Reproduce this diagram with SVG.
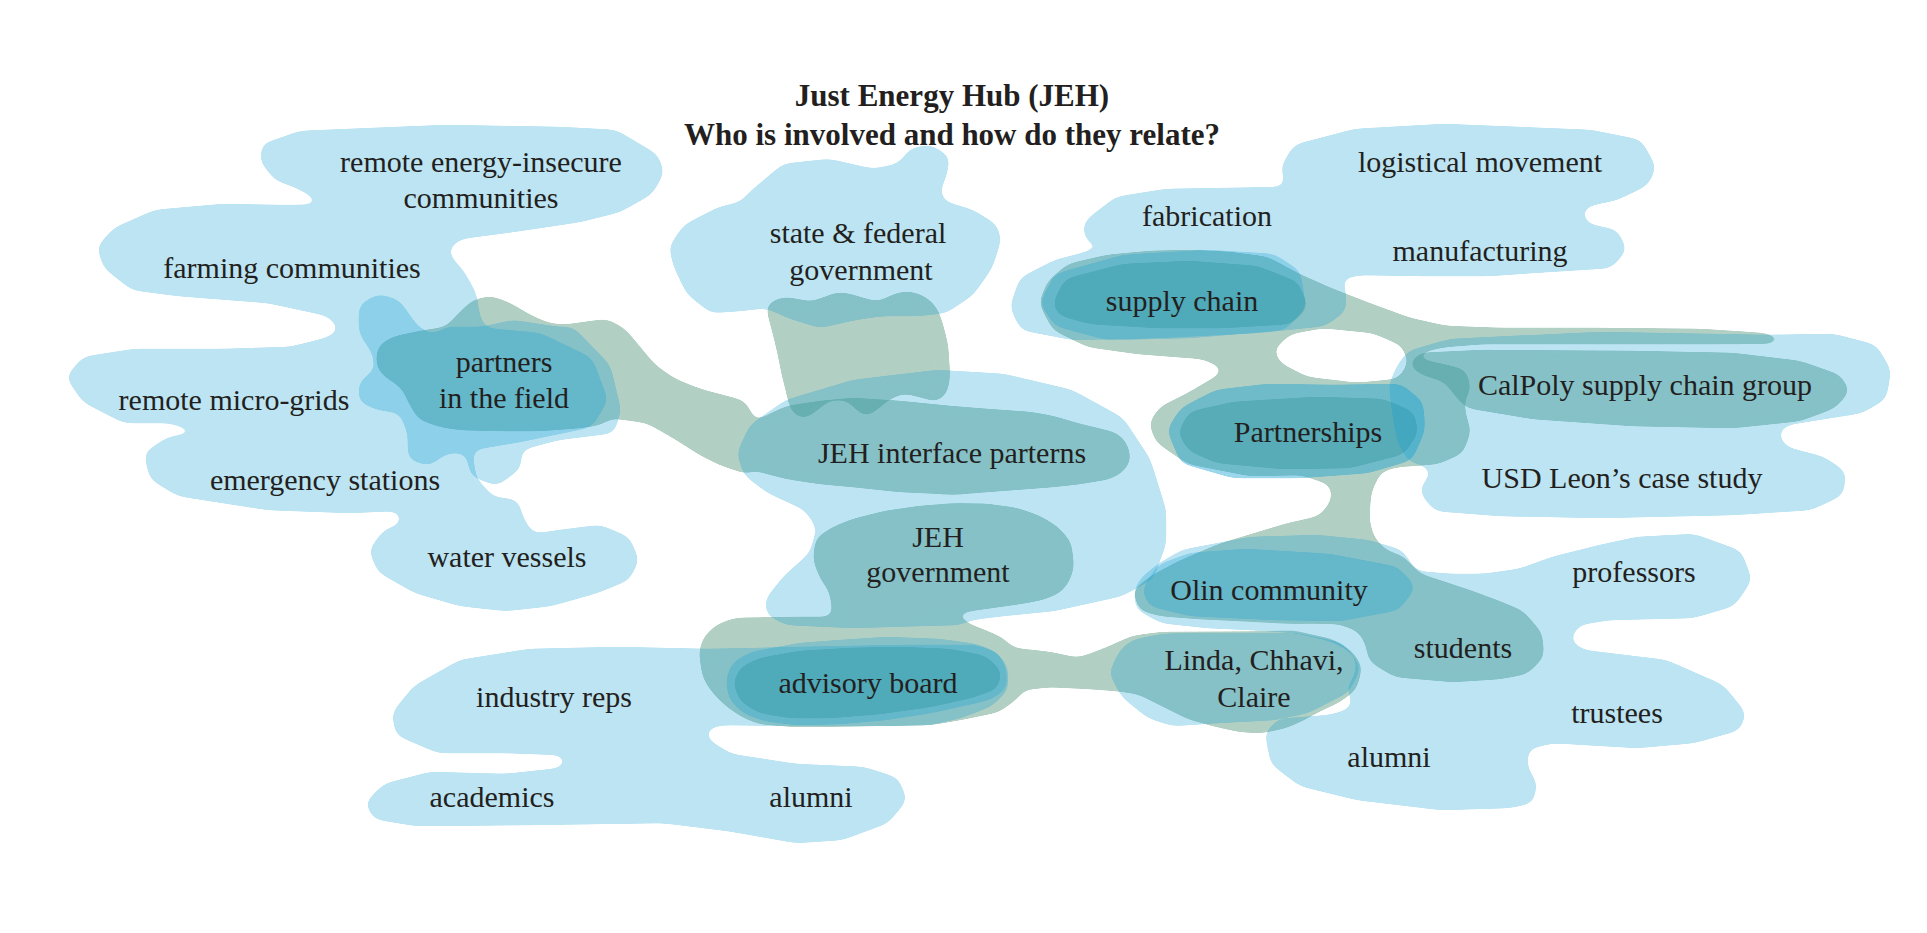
<svg xmlns="http://www.w3.org/2000/svg" width="1927" height="933" viewBox="0 0 1927 933">
<defs>
<filter id="goo" x="-10%" y="-10%" width="120%" height="120%" color-interpolation-filters="sRGB">
<feGaussianBlur stdDeviation="6"/>
<feColorMatrix type="matrix" values="1 0 0 0 0  0 1 0 0 0  0 0 1 0 0  0 0 0 24 -11"/>
</filter>
</defs>
<style>
.g path{fill:#56977c;fill-rule:evenodd}
.g{opacity:.45;filter:url(#goo)}
.b{fill:#14a0d4;opacity:.28;filter:url(#goo)}
.b2{opacity:.42}
text{font-family:"Liberation Serif","Times New Roman",serif;font-size:30px;fill:#231f20;text-anchor:middle}
.t{font-weight:bold;font-size:31px}
</style>
<rect width="1927" height="933" fill="#ffffff"/>
<g id="connectors">
<g class="g" id="links-main">
<path d="M376,362 L378,346 392,337 420,331 446,327 460,312 473,300 491,296 510,303 530,315 548,323 563,325 585,322 607,319 625,329 640,347 655,365 675,379 700,389 745,401 760,430 750,475 720,465 700,455 675,439 647,423 612,418 600,425 580,428 540,431 500,431 460,430 440,427 418,419 409,403 402,388 390,380 380,373 Z"/>
<path d="M736,453 L744,433 763,417 787,406 820,401 853,398 900,401 950,406 987,409 1030,412 1053,416 1080,424 1097,428 1117,433 1127,443 1131,460 1123,472 1110,479 1080,484 1053,487 1000,491 953,494 900,492 853,487 820,484 787,479 760,472 744,466 Z"/>
<path d="M813,560 L816,538 833,527 853,519 885,511 920,506 955,504 987,504 1017,508 1040,516 1058,527 1071,542 1074,567 1069,582 1060,593 1042,600 1020,604 970,611 920,617 870,621 843,620 833,615 831,600 829,590 821,580 Z"/>
<path d="M699,653 L703,638 716,625 735,618 796,617 880,617 958,617 969,624 987,631 1003,638 1013,648 1050,652 1078,658 1095,652 1110,646 1132,636 1162,632 1218,632 1296,632 1332,639 1353,652 1362,668 1356,690 1338,703 1320,711 1302,721 1286,728 1262,733 1240,732 1213,726 1188,719 1158,704 1138,694 1117,691 1090,689 1050,687 1023,690 1018,698 999,712 960,720 930,725 870,726 796,727 759,724 742,717 726,706 712,692 703,678 Z"/>
<path d="M1039,303 L1048,281 1068,264 1107,255 1150,251 1190,250 1230,252 1268,257 1299,274 1333,289 1369,303 1410,318 1446,326 1500,328 1600,328 1700,329 1765,333 1788,339 1772,344 1733,344 1633,344 1533,344 1483,344 1445,347 1425,351 1410,358 1443,364 1466,370 1471,390 1464,400 1466,417 1471,430 1463,453 1438,464 1397,467 1383,471 1350,474 1250,476 1188,464 1156,442 1149,423 1160,407 1188,393 1222,373 1225,369 1203,359 1138,354 1088,347 1053,330 Z M1273,350 L1290,334 1323,328 1373,333 1403,346 1408,365 1398,379 1357,383 1307,377 1280,363 Z"/>
<path d="M1299,474 L1331,485 1332,500 1320,516 1285,524 1219,544 1179,561 1151,576 1133,590 1139,610 1160,616 1200,619 1274,622 1339,624 1358,631 1365,642 1370,662 1395,677 1453,682 1500,679 1527,674 1544,657 1542,633 1523,611 1499,601 1472,591 1442,581 1420,574 1403,556 1387,551 1374,538 1369,520 1371,492 1385,463 1350,464 Z"/>
</g>
<g class="g" id="links-over">
<path d="M766,305 L775,300 784,297 797,299 811,302 825,297 838,292 850,294 860,297 870,300 878,302 890,296 900,292 912,292 922,295 932,302 938,310 943,325 948,345 950,377 947,393 937,402 920,397 903,393 888,400 880,407 867,417 860,413 847,400 830,400 817,410 807,418 797,417 790,408 787,395 782,375 777,350 772,330 768,315 Z"/>
<path d="M1053,303 L1065,279 1123,264 1190,261 1257,266 1298,282 1308,307 1291,324 1223,328 1157,328 1090,324 1058,315 Z"/>
<path d="M1178,433 L1189,412 1233,402 1317,397 1383,399 1414,412 1418,433 1404,454 1350,468 1283,469 1217,463 1189,451 Z"/>
<path d="M733,682 L741,667 760,658 800,651 850,648 900,647 950,649 986,656 1002,672 997,689 971,698 930,707 880,714 830,718 790,718 759,713 740,701 Z"/>
<path d="M1408,364 L1420,353 1483,350 1633,351 1733,353 1800,361 1840,375 1850,391 1835,408 1800,421 1733,428 1633,426 1533,419 1467,408 1457,398 1445,382 1420,374 Z"/>
</g>
</g>
<g id="node-communities">
<path class="b" d="M266,143 L300,131 446,125 560,127 616,130 658,155 664,173 652,194 620,212 580,222 513,232 460,239 447,250 455,262 463,270 476,293 480,317 485,328 540,333 592,358 608,400 592,427 520,442 472,450 476,478 493,497 518,500 523,518 533,534 560,530 600,525 629,537 639,560 629,580 597,593 551,606 506,611 460,606 415,593 378,572 369,550 384,530 401,524 402,514 393,511 350,513 268,510 178,496 150,479 144,453 168,437 197,434 197,430 169,423 124,423 83,402 66,377 83,357 134,349 223,349 290,347 326,338 341,330 328,316 268,303 178,296 132,290 104,268 97,247 114,228 155,210 223,204 277,205 322,205 317,199 297,188 275,180 260,161 263,141 Z"/>
<text x="481" y="172">remote energy-insecure</text>
<text x="481" y="208">communities</text>
<text x="292" y="278">farming communities</text>
<text x="234" y="410">remote micro-grids</text>
<text x="325" y="490">emergency stations</text>
<text x="507" y="567">water vessels</text>
</g>
<g id="node-partners-field">
<path class="b" d="M359,333 L359,305 378,294 399,300 418,327 433,335 446,327 482,327 513,320 558,327 573,327 610,365 621,410 614,433 558,440 521,450 521,468 497,486 471,476 466,453 447,453 429,466 408,459 408,434 400,413 378,410 359,402 359,382 375,370 373,354 Z"/>
<text x="504" y="372">partners</text>
<text x="504" y="408">in the field</text>
</g>
<g id="node-state-federal">
<path class="b" d="M751,191 L783,164 829,159 873,169 898,164 911,148 931,145 950,157 946,177 940,190 943,201 973,210 997,225 1001,240 992,268 973,295 946,313 918,316 882,316 855,320 820,328 788,318 766,308 740,311 711,313 687,294 674,267 669,247 684,225 719,207 741,202 747,195 Z"/>
<text x="858" y="243">state &amp; federal</text>
<text x="861" y="280">government</text>
</g>
<g id="node-jeh-interface">
<path class="b" d="M737,453 L750,425 786,400 853,380 937,370 1004,374 1072,390 1123,418 1150,459 1166,510 1166,544 1153,579 1122,596 1054,611 1003,616 971,620 960,625 920,626 853,628 786,625 767,615 765,600 784,576 810,553 817,528 805,510 768,493 744,475 Z"/>
<text x="952" y="463">JEH interface parterns</text>
</g>
<g id="node-jeh-government">
<text x="938" y="547">JEH</text>
<text x="938" y="582">government</text>
</g>
<g id="node-industry">
<path class="b" d="M414,686 L460,660 529,649 618,647 707,649 800,647 900,645 976,645 998,653 1008,668 1008,690 992,706 961,718 930,725 860,726 796,726 722,725 706,729 707,739 731,754 796,764 864,767 898,778 907,800 888,823 842,840 796,843 728,831 663,823 529,825 416,826 374,819 365,803 384,784 430,772 506,774 561,768 568,761 561,755 506,753 438,753 396,735 392,713 Z"/>
<text x="554" y="707">industry reps</text>
<text x="492" y="807">academics</text>
<text x="811" y="807">alumni</text>
</g>
<g id="node-advisory-board">
<path class="b" d="M726,680 L732,663 751,652 800,643 841,640 886,637 940,639 976,644 997,652 1006,667 1007,688 992,699 976,703 931,713 886,720 840,724 796,725 764,721 743,713 729,699 Z"/>
<text x="868" y="693">advisory board</text>
</g>
<g id="node-fabrication">
<path class="b" d="M1086,220 L1116,197 1166,189 1286,187 1281,167 1294,145 1355,129 1444,124 1591,130 1641,140 1656,167 1648,185 1617,200 1588,206 1581,213 1588,224 1617,230 1627,250 1611,268 1532,273 1490,276 1423,276 1360,275 1340,279 1346,290 1346,311 1325,326 1257,333 1157,338 1073,340 1021,330 1010,307 1020,278 1055,260 1110,246 1110,243 1087,243 1083,227 Z"/>
<text x="1207" y="226">fabrication</text>
<text x="1480" y="172">logistical movement</text>
<text x="1480" y="261">manufacturing</text>
</g>
<g id="node-supply-chain">
<path class="b" d="M1040,303 L1055,274 1123,255 1207,250 1274,254 1300,271 1306,307 1285,330 1190,338 1107,340 1055,326 Z"/>
<text x="1182" y="311">supply chain</text>
</g>
<g id="node-calpoly">
<path class="b" d="M1408,351 L1450,339 1600,332 1767,335 1834,334 1876,345 1891,370 1886,399 1862,413 1818,420 1787,425 1777,433 1786,447 1824,457 1846,472 1843,495 1811,510 1733,515 1600,518 1500,516 1435,511 1420,493 1423,483 1433,473 1425,466 1408,461 1397,440 1392,410 1389,385 1397,366 Z"/>
<text x="1645" y="395">CalPoly supply chain group</text>
<text x="1622" y="488">USD Leon’s case study</text>
</g>
<g id="node-partnerships">
<path class="b b2" d="M1167,430 L1181,408 1216,390 1267,384 1333,385 1401,384 1423,402 1425,430 1412,460 1368,473 1300,478 1233,478 1181,463 Z"/>
<text x="1308" y="442">Partnerships</text>
</g>
<g id="node-olin-community">
<path class="b" d="M1134,590 L1141,578 1158,564 1182,550 1250,537 1317,535 1368,540 1402,550 1416,571 1450,574 1483,574 1519,569 1552,557 1600,545 1637,537 1694,534 1741,551 1752,580 1734,606 1693,618 1609,620 1579,625 1569,640 1583,650 1666,660 1723,685 1746,713 1740,730 1694,743 1637,748 1553,743 1528,749 1527,767 1537,783 1533,803 1509,808 1441,810 1357,800 1300,786 1271,764 1265,733 1278,719 1330,715 1350,709 1353,700 1346,690 1355,675 1357,660 1348,650 1330,641 1296,633 1251,630 1207,628 1161,623 1136,609 Z"/>
<path class="b" d="M1142,590 L1158,565 1190,553 1246,549 1330,554 1398,567 1416,587 1399,610 1341,621 1274,620 1190,616 1149,606 Z"/>
<text x="1269" y="600">Olin community</text>
<text x="1634" y="582">professors</text>
<text x="1463" y="658">students</text>
<text x="1617" y="723">trustees</text>
<text x="1389" y="767">alumni</text>
</g>
<g id="node-linda-chhavi-claire">
<path class="b" d="M1109,673 L1120,650 1132,640 1162,634 1190,633 1296,633 1343,643 1361,667 1349,692 1308,713 1275,720 1218,723 1173,726 1148,718 1122,697 Z"/>
<text x="1254" y="670">Linda, Chhavi,</text>
<text x="1254" y="707">Claire</text>
</g>
<g id="title">
<text class="t" x="952" y="106">Just Energy Hub (JEH)</text>
<text class="t" x="952" y="145">Who is involved and how do they relate?</text>
</g>
</svg>
